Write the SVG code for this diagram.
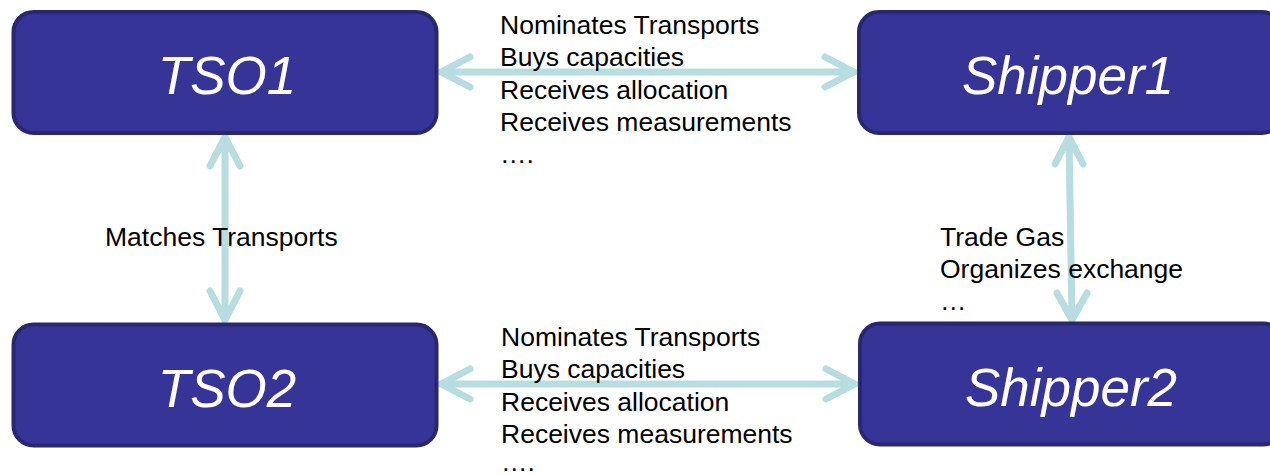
<svg xmlns="http://www.w3.org/2000/svg" width="1270" height="475" viewBox="0 0 1270 475">
<style>
.box{fill:#363597;stroke:#29276f;stroke-width:4}
.nl{font-family:"Liberation Sans",Arial,sans-serif;font-style:italic;font-size:53px;fill:#fff;text-anchor:middle}
.lbl{font-family:"Liberation Sans",Arial,sans-serif;font-size:26.5px;fill:#000}
.con{fill:none;stroke:#b7dde0;stroke-width:7;stroke-linecap:round;stroke-linejoin:round}
</style>
<rect width="1270" height="475" fill="#fff"/>
<g id="connectors">
<path class="con" d="M441 72H854M470 57L441 72L470 87M825 57L854 72L825 87"/>
<path class="con" d="M441 384H855M470 369L441 384L470 399M826 369L855 384L826 399"/>
<path class="con" d="M225 137V320M210 166L225 137L240 166M210 291L225 320L240 291"/>
<path class="con" d="M1069 137L1072 320M1055 164L1069 137L1083 164M1057 293L1072 320L1087 293"/>
</g>
<g id="TSO1"><rect class="box" x="13.5" y="12" width="423" height="121" rx="20"/><text class="nl" x="227" y="94">TSO1</text></g>
<g id="TSO2"><rect class="box" x="13.5" y="324.5" width="423" height="121" rx="20"/><text class="nl" x="227" y="407">TSO2</text></g>
<g id="Shipper1"><rect class="box" x="859" y="12" width="423" height="121" rx="20"/><text class="nl" x="1068" y="94">Shipper1</text></g>
<g id="Shipper2"><rect class="box" x="860" y="323.5" width="423" height="121" rx="20"/><text class="nl" x="1071" y="406">Shipper2</text></g>
<g id="labels">
<text class="lbl" x="500" y="33.5">Nominates Transports</text>
<text class="lbl" x="500" y="66">Buys capacities</text>
<text class="lbl" x="500" y="98.5">Receives allocation</text>
<text class="lbl" x="500" y="131">Receives measurements</text>
<text class="lbl" x="500" y="163">….</text>
<text class="lbl" x="501" y="345.5">Nominates Transports</text>
<text class="lbl" x="501" y="378">Buys capacities</text>
<text class="lbl" x="501" y="410.5">Receives allocation</text>
<text class="lbl" x="501" y="443">Receives measurements</text>
<text class="lbl" x="501" y="471">….</text>
<text class="lbl" x="105" y="246">Matches Transports</text>
<text class="lbl" x="940" y="246">Trade Gas</text>
<text class="lbl" x="940" y="278">Organizes exchange</text>
<text class="lbl" x="940" y="310">…</text>
</g>
</svg>
